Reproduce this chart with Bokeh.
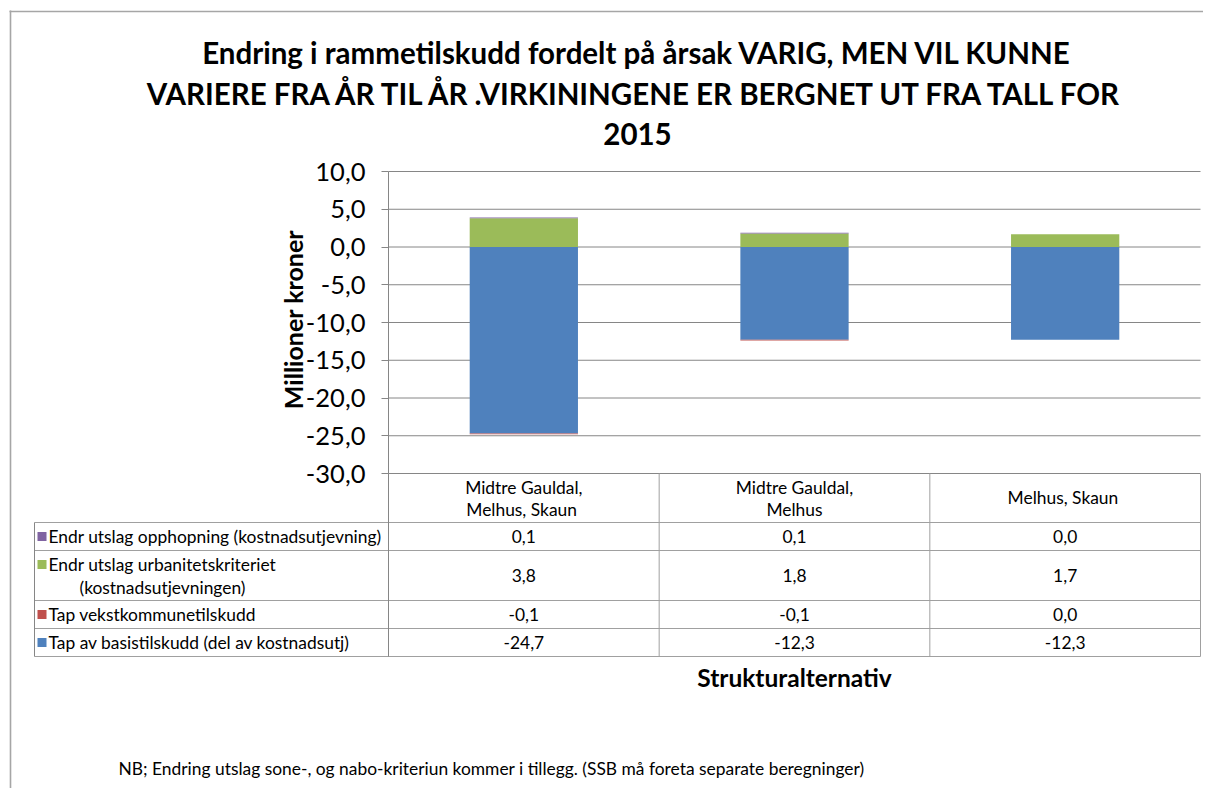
import numpy as np
from bokeh.plotting import figure
from bokeh.models import Range1d, FixedTicker, CustomJSTickFormatter, LinearAxis
from bokeh.embed import file_html
from bokeh.resources import INLINE
from bokeh.core.properties import value

# ---------------- data ----------------
categories = ["Midtre Gauldal, Melhus,  Skaun", "Midtre Gauldal, Melhus", "Melhus,  Skaun"]
category_lines = [["Midtre Gauldal,", "Melhus,  Skaun"], ["Midtre Gauldal,", "Melhus"], ["Melhus,  Skaun"]]
series_names = ["Tap av basistilskudd (del av kostnadsutj)",
                "Tap vekstkommunetilskudd",
                "Endr utslag urbanitetskriteriet (kostnadsutjevningen)",
                "Endr utslag opphopning (kostnadsutjevning)"]
basistilskudd = [-24.7, -12.3, -12.3]
vekstkommune = [-0.1, -0.1, 0.0]
urbanitet = [3.8, 1.8, 1.7]
opphopning = [0.1, 0.1, 0.0]
y_ticks = [-30, -25, -20, -15, -10, -5, 0, 5, 10]
colors = ["#4F81BD", "#C0504D", "#9BBB59", "#8064A2"]

title_lines = ["Endring i rammetilskudd fordelt på årsak VARIG, MEN VIL KUNNE",
               "VARIERE FRA ÅR TIL ÅR .VIRKININGENE ER BERGNET UT FRA TALL FOR",
               "2015"]
y_label = "Millioner kroner"
x_label = "Strukturalternativ"
note = "NB; Endring utslag sone-, og nabo-kriteriun kommer i tillegg. (SSB må foreta separate beregninger)"

FONT = "Lato"
TXT = "#000000"
GRID = "#868686"
TLINE = "#a0a0a0"
BORDER = "#a6a6a6"
TABLE_FS = "17.4px"

# ---------------- layout geometry (page pixels) ----------------
OX, OY = 0, 0
W, H = 1203, 788
PLOT_L, PLOT_R = 388, 1200
PLOT_T, PLOT_B = 171, 473
YMIN, YMAX = y_ticks[0], y_ticks[-1]
PX = (PLOT_R - PLOT_L) / len(categories)
PY = (PLOT_B - PLOT_T) / (YMAX - YMIN)

def tx(page_x):
    return (page_x - PLOT_L) / PX

def vy(page_y):
    return YMIN + (PLOT_B - page_y) / PY

p = figure(width=W, height=H, output_backend="svg", toolbar_location=None,
           x_range=Range1d(tx(OX), tx(OX + W)), y_range=Range1d(vy(OY + H), vy(OY)),
           x_axis_location=None, y_axis_location=None, min_border=0)
p.extra_x_ranges = {"px": Range1d(OX, OX + W)}
p.extra_y_ranges = {"px": Range1d(OY + H, OY)}
p.grid.visible = False
p.outline_line_color = None
p.background_fill_color = "white"
p.border_fill_color = "white"

ncat = len(categories)
cx = [i + 0.5 for i in range(ncat)]

# outer chart border
p.segment(x0=[10, 9], x1=[10, OX + W], y0=[10, 11], y1=[OY + H, 11],
          x_range_name="px", y_range_name="px", line_color=BORDER, line_width=1.6)

# title
p.text(x=[637] * 3, y=[52, 93, 133], text=title_lines, text_font=value(FONT),
       text_font_size="29.5px", text_font_style="bold", text_align="center",
       text_baseline="middle", text_color=TXT, x_range_name="px", y_range_name="px")

# gridlines
p.segment(x0=[0] * len(y_ticks), x1=[ncat] * len(y_ticks), y0=y_ticks, y1=y_ticks,
          line_color=GRID, line_width=1)

# stacked bars (positives stack up, negatives stack down)
series = [basistilskudd, vekstkommune, urbanitet, opphopning]
pos = np.zeros(ncat)
neg = np.zeros(ncat)
for vals, col in zip(series, colors):
    v = np.array(vals, dtype=float)
    bottom = np.where(v >= 0, pos, neg)
    top = bottom + v
    pos = np.where(v >= 0, top, pos)
    neg = np.where(v < 0, top, neg)
    p.vbar(x=cx, bottom=bottom, top=top, width=0.4, fill_color=col, line_color=None)

# y axis at the left edge of the category area
yax = LinearAxis(fixed_location=0, bounds=(YMIN, YMAX),
                 ticker=FixedTicker(ticks=y_ticks),
                 formatter=CustomJSTickFormatter(code="return tick.toFixed(1).replace('.', ',');"))
yax.major_label_text_font = FONT
yax.major_label_text_font_size = "25.5px"
yax.major_label_text_color = TXT
yax.major_label_standoff = 16
yax.major_tick_out = 7
yax.major_tick_in = 0
yax.minor_tick_out = 0
yax.minor_tick_in = 0
yax.major_tick_line_color = GRID
yax.axis_line_color = GRID
p.add_layout(yax, "left")

# y axis title
p.text(x=[292], y=[319], text=[y_label], angle=np.pi / 2, text_font=value(FONT),
       text_font_size="25px", text_font_style="bold", text_align="center",
       text_baseline="middle", text_color=TXT, x_range_name="px", y_range_name="px")

# ---------------- data table ----------------
row_edges = [522, 550, 600, 628, 656]
left_edge = tx(34)
p.segment(x0=[left_edge] * len(row_edges), x1=[ncat] * len(row_edges),
          y0=row_edges, y1=row_edges, line_color=TLINE, line_width=1, y_range_name="px")
p.segment(x0=list(range(1, ncat + 1)), x1=list(range(1, ncat + 1)),
          y0=[PLOT_B] * ncat, y1=[row_edges[-1]] * ncat,
          line_color=TLINE, line_width=1, y_range_name="px")
p.segment(x0=[0, left_edge], x1=[0, left_edge], y0=[PLOT_B, row_edges[0]],
          y1=[row_edges[-1], row_edges[-1]], line_color=GRID, line_width=1, y_range_name="px")

# header texts (category names)
hx, hy, ht = [], [], []
for i, lines in enumerate(category_lines):
    ys = [487, 509] if len(lines) == 2 else [497]
    for ln, yy in zip(lines, ys):
        hx.append(i + 0.5); hy.append(yy); ht.append(ln)
p.text(x=hx, y=hy, text=ht, text_font=value(FONT), text_font_size=TABLE_FS,
       text_align="center", text_baseline="middle", text_color=TXT, y_range_name="px")

# rows: top to bottom = reversed stack order
row_series = list(reversed(series))
row_colors = list(reversed(colors))
row_label_lines = [["Endr utslag opphopning (kostnadsutjevning)"],
                   ["Endr utslag urbanitetskriteriet", "(kostnadsutjevningen)"],
                   ["Tap vekstkommunetilskudd"],
                   ["Tap av basistilskudd (del av kostnadsutj)"]]
row_first_y = [536, 564, 614, 642]
row_center_y = [536, 575, 614, 642]

lx, ly, lt = [], [], []
for lines, fy in zip(row_label_lines, row_first_y):
    lx.append(tx(48)); ly.append(fy); lt.append(lines[0])
    if len(lines) > 1:
        lx.append(tx(79)); ly.append(fy + 23); lt.append(lines[1])
p.text(x=lx, y=ly, text=lt, text_font=value(FONT), text_font_size=TABLE_FS,
       text_align="left", text_baseline="middle", text_color=TXT, y_range_name="px")

p.scatter(x=[tx(41.5)] * len(row_first_y), y=row_first_y, marker="square", size=9,
          fill_color=row_colors, line_color=None, y_range_name="px")

vx, vyy, vt = [], [], []
for vals, cyy in zip(row_series, row_center_y):
    for i, v in enumerate(vals):
        vx.append(i + 0.5); vyy.append(cyy)
        vt.append(f"{v:.1f}".replace(".", ","))
p.text(x=vx, y=vyy, text=vt, text_font=value(FONT), text_font_size=TABLE_FS,
       text_align="center", text_baseline="middle", text_color=TXT, y_range_name="px")

# axis title below table, and footnote
p.text(x=[ncat / 2.0], y=[677], text=[x_label], text_font=value(FONT),
       text_font_size="24.5px", text_font_style="bold", text_align="center",
       text_baseline="middle", text_color=TXT, y_range_name="px")
p.text(x=[118], y=[768], text=[note], text_font=value(FONT),
       text_font_size=TABLE_FS, text_align="left", text_baseline="middle", text_color=TXT,
       x_range_name="px", y_range_name="px")

with open("out.html", "w") as f:
    f.write(file_html(p, INLINE))
